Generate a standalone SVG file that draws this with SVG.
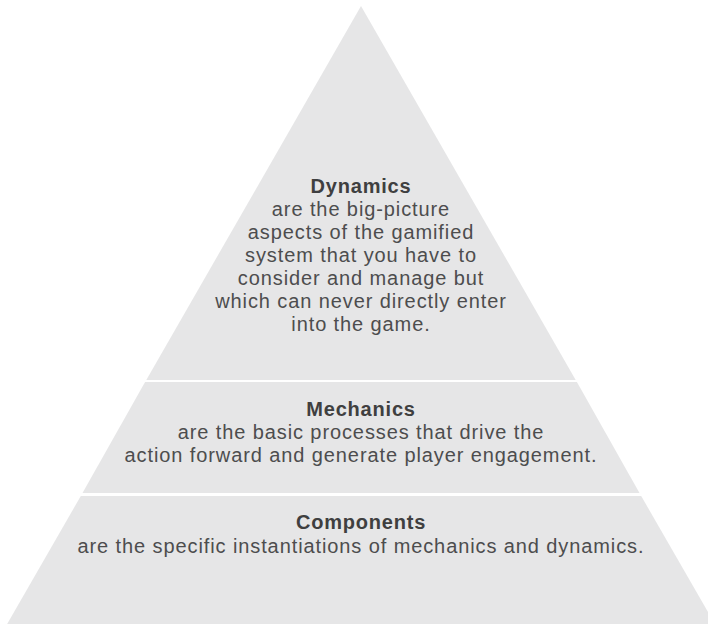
<svg xmlns="http://www.w3.org/2000/svg" width="708" height="624" viewBox="0 0 708 624">
  <style>
    .tier { fill: #e6e6e7; }
    .head { font-family: "Liberation Sans", Arial, sans-serif; font-size: 20px; letter-spacing: 0.8px; font-weight: 700; fill: #3f3f40; text-anchor: middle; }
    .body { font-family: "Liberation Sans", Arial, sans-serif; font-size: 20px; letter-spacing: 0.9px; font-weight: 400; fill: #4d4d4e; text-anchor: middle; }
  </style>
  <rect width="708" height="624" fill="#ffffff"/>

  <!-- top tier: apex down to first divider -->
  <g id="dynamics">
    <polygon class="tier" points="361,6 575.7,380 146.3,380"/>
    <text class="head" x="361" y="193">Dynamics</text>
    <text class="body" x="361" y="216">are the big-picture</text>
    <text class="body" x="361" y="239">aspects of the gamified</text>
    <text class="body" x="361" y="262">system that you have to</text>
    <text class="body" x="361" y="285">consider and manage but</text>
    <text class="body" x="361" y="308">which can never directly enter</text>
    <text class="body" x="361" y="331">into the game.</text>
  </g>

  <!-- middle tier -->
  <g id="mechanics">
    <polygon class="tier" points="145.1,382 576.9,382 639.5,493 82.5,493"/>
    <text class="head" x="361" y="416">Mechanics</text>
    <text class="body" x="361" y="439">are the basic processes that drive the</text>
    <text class="body" x="361" y="462">action forward and generate player engagement.</text>
  </g>

  <!-- bottom tier -->
  <g id="components">
    <polygon class="tier" points="80.8,496 641.2,496 716,626 6,626"/>
    <text class="head" x="361" y="529">Components</text>
    <text class="body" x="361" y="553">are the specific instantiations of mechanics and dynamics.</text>
  </g>

  <g id="connectors"/>
</svg>
